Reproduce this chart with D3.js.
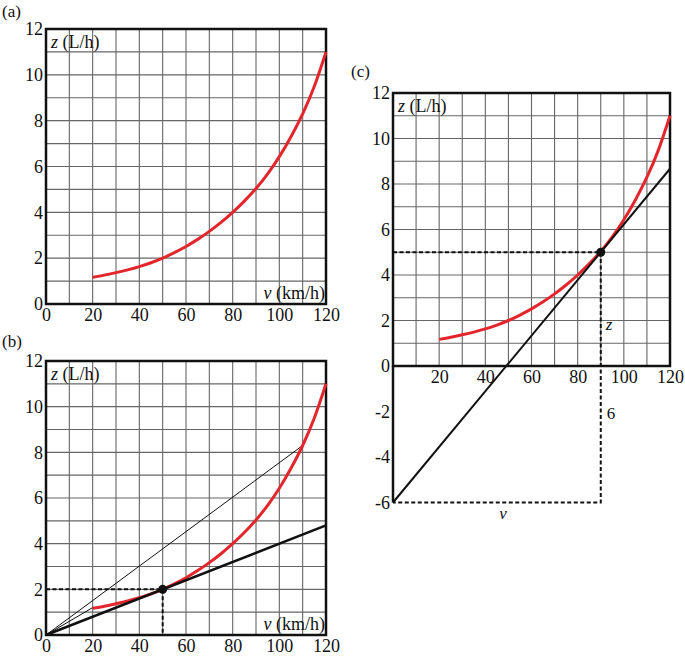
<!DOCTYPE html>
<html>
<head>
<meta charset="utf-8">
<script src="https://cdn.jsdelivr.net/npm/d3@7"></script>
<style>
  body { margin: 0; background: #fff; }
  svg text { font-family: "Liberation Serif", "DejaVu Serif", serif; fill: #111; }
</style>
</head>
<body>
<script>
"use strict";

// fuel consumption curve
const speeds = [20, 25, 30, 35, 40, 45, 50, 55, 60, 65, 70, 75, 80, 85, 90, 95, 100, 105, 110, 115, 120];
const consumption = [1.17, 1.26, 1.37, 1.49, 1.63, 1.8, 2.0, 2.24, 2.51, 2.82, 3.17, 3.56, 4.0, 4.49, 5.04, 5.68, 6.43, 7.3, 8.3, 9.5, 11.0];

const xTicks = [0, 20, 40, 60, 80, 100, 120];
const yTicks = [0, 2, 4, 6, 8, 10, 12];
const yTicksC = [-6, -4, -2, 0, 2, 4, 6, 8, 10, 12];
const xTicksC = [20, 40, 60, 80, 100, 120];

// panel (b): lines from the origin
const tangentB = [[0, 0], [120, 4.8]];
const secantB = [[0, 0], [110, 8.3]];
const chordB = [[0, 0], [20, 1.2]];
const pointB = [50, 2];

// panel (c): tangent at v = 90
const tangentC = [[0, -6], [120, 8.67]];
const pointC = [90, 5];

const w = 685;
const h = 660;
const red = "#e3262b";

const svg = d3.select("body").append("svg").attr("width", w).attr("height", h);

function panel(opt) {
  const g = svg.append("g");
  const x = d3.scaleLinear().domain([0, 120]).range([opt.left, opt.right]);
  const y = d3.scaleLinear().domain([opt.ymin, 12]).range([opt.bottom, opt.top]);

  // grid (only on the positive side)
  g.selectAll(".vg").data(d3.range(10, 120, 10)).enter().append("line")
    .attr("x1", d => x(d)).attr("x2", d => x(d))
    .attr("y1", y(0)).attr("y2", y(12))
    .attr("stroke", "#666").attr("stroke-width", 1.1);
  g.selectAll(".hg").data(d3.range(1, 12, 1)).enter().append("line")
    .attr("x1", x(0)).attr("x2", x(120))
    .attr("y1", d => y(d)).attr("y2", d => y(d))
    .attr("stroke", "#666").attr("stroke-width", 1.1);

  // frame
  g.append("rect").attr("x", x(0)).attr("y", y(12))
    .attr("width", x(120) - x(0)).attr("height", y(0) - y(12))
    .attr("fill", "none").attr("stroke", "#111").attr("stroke-width", 2.5);
  if (opt.ymin < 0) {
    g.append("line").attr("x1", x(0)).attr("x2", x(0))
      .attr("y1", y(0)).attr("y2", y(opt.ymin))
      .attr("stroke", "#111").attr("stroke-width", 2.5);
  }

  // tick labels
  const yAxis = g.append("g").attr("transform", `translate(${x(0)},0)`)
    .call(d3.axisLeft(y).tickValues(opt.yTicks).tickFormat(d => String(d)).tickSize(0).tickPadding(3));
  const xAxis = g.append("g").attr("transform", `translate(0,${y(0)})`)
    .call(d3.axisBottom(x).tickValues(opt.xTicks).tickFormat(d => String(d)).tickSize(0).tickPadding(4));
  [xAxis, yAxis].forEach(a => {
    a.select(".domain").remove();
    a.attr("font-family", null).attr("font-size", null);
    a.selectAll("text").style("font-size", "18px").attr("fill", "#111");
  });

  // axis titles
  const zt = g.append("text").attr("x", x(0) + 5).attr("y", y(12) + 19).style("font-size", "18px");
  zt.append("tspan").style("font-style", "italic").text("z");
  zt.append("tspan").text(" (L/h)");
  if (opt.vTitle) {
    const vt = g.append("text").attr("x", x(120) - 1).attr("y", y(0) - 5)
      .attr("text-anchor", "end").style("font-size", "18px");
    vt.append("tspan").style("font-style", "italic").text("v");
    vt.append("tspan").text(" (km/h)");
  }

  g.append("text").attr("x", opt.labelX).attr("y", opt.labelY)
    .style("font-size", "17px").text(opt.label);

  return { g, x, y };
}

const line = d3.line();

function drawCurve(p) {
  const pts = speeds.map((v, i) => [p.x(v), p.y(consumption[i])]);
  p.g.append("path").attr("d", d3.line().curve(d3.curveNatural)(pts))
    .attr("fill", "none").attr("stroke", red).attr("stroke-width", 3);
}

function straight(p, seg, width) {
  p.g.append("path").attr("d", line(seg.map(d => [p.x(d[0]), p.y(d[1])])))
    .attr("fill", "none").attr("stroke", "#111").attr("stroke-width", width);
}

function dashed(p, seg) {
  p.g.append("path").attr("d", line(seg.map(d => [p.x(d[0]), p.y(d[1])])))
    .attr("fill", "none").attr("stroke", "#111").attr("stroke-width", 2)
    .attr("stroke-dasharray", "4,2.5");
}

// (a)
const pa = panel({ left: 46, right: 326, top: 29, bottom: 304, ymin: 0,
  yTicks: yTicks, xTicks: xTicks, vTitle: true, label: "(a)", labelX: 2, labelY: 17 });
drawCurve(pa);

// (b)
const pb = panel({ left: 46, right: 326, top: 361, bottom: 635, ymin: 0,
  yTicks: yTicks, xTicks: xTicks, vTitle: true, label: "(b)", labelX: 2, labelY: 347 });
straight(pb, secantB, 1);
straight(pb, chordB, 1);
dashed(pb, [[0, pointB[1]], pointB, [pointB[0], 0]]);
drawCurve(pb);
straight(pb, tangentB, 2.5);
pb.g.append("circle").attr("cx", pb.x(pointB[0])).attr("cy", pb.y(pointB[1]))
  .attr("r", 4.5).attr("fill", "#111");

// (c)
const yc = 366 + 6 * (366 - 93) / 12;
const pc = panel({ left: 393, right: 670, top: 93, bottom: yc, ymin: -6,
  yTicks: yTicksC, xTicks: xTicksC, vTitle: false, label: "(c)", labelX: 351, labelY: 77 });
dashed(pc, [[0, pointC[1]], pointC, [pointC[0], -6], [0, -6]]);
drawCurve(pc);
straight(pc, tangentC, 2);
pc.g.append("circle").attr("cx", pc.x(pointC[0])).attr("cy", pc.y(pointC[1]))
  .attr("r", 4.5).attr("fill", "#111");
pc.g.append("text").attr("x", pc.x(pointC[0]) + 5).attr("y", pc.y(2) + 9)
  .style("font-size", "17px").style("font-style", "italic").text("z");
pc.g.append("text").attr("x", pc.x(pointC[0]) + 6).attr("y", pc.y(-2) + 7)
  .style("font-size", "17px").text("6");
pc.g.append("text").attr("x", pc.x(46)).attr("y", pc.y(-6) + 16)
  .style("font-size", "17px").style("font-style", "italic").text("v");
</script>
</body>
</html>
